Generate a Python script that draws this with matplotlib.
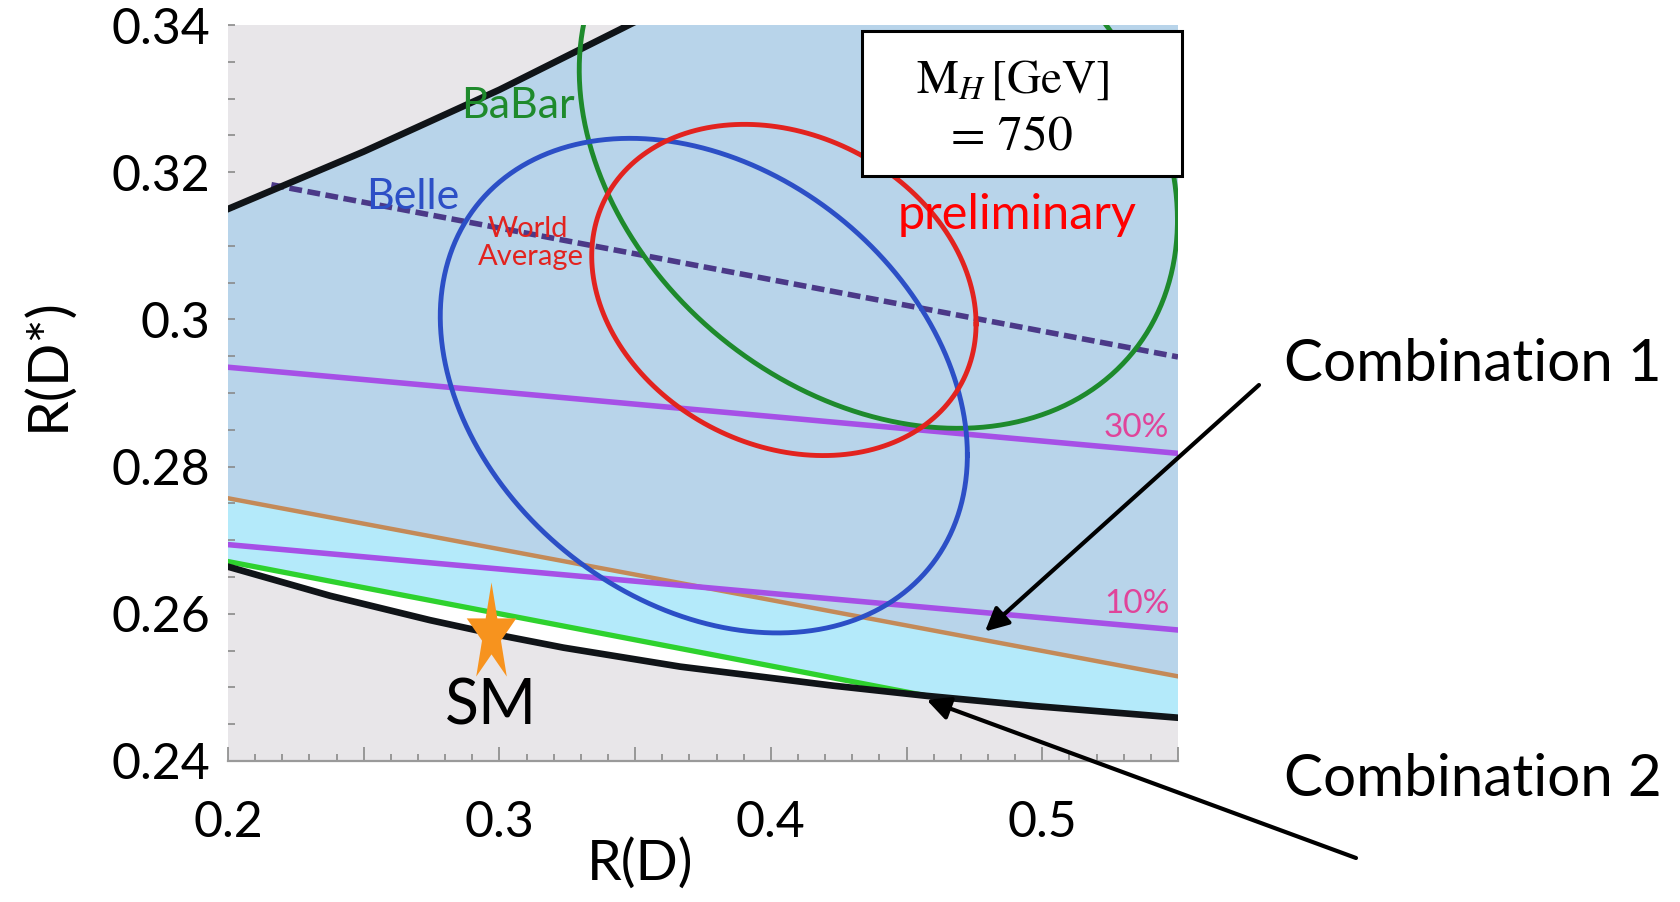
import numpy as np
import matplotlib.pyplot as plt
from matplotlib.path import Path
from matplotlib.transforms import Affine2D
from matplotlib.patches import Rectangle

plt.rcParams['font.family'] = ['Lato', 'DejaVu Sans']
plt.rcParams['mathtext.fontset'] = 'stix'

# axis ranges and ticks
x_lim = (0.2, 0.55)
y_lim = (0.24, 0.34)
x_ticks = [0.2, 0.25, 0.3, 0.35, 0.4, 0.45, 0.5, 0.55]
x_tick_labels = ['0.2', '', '0.3', '', '0.4', '', '0.5', '']
y_ticks = [0.24, 0.26, 0.28, 0.3, 0.32, 0.34]
y_tick_labels = ['0.24', '0.26', '0.28', '0.3', '0.32', '0.34']

# boundaries of the allowed region
lower_x = [0.20, 0.2376, 0.2744, 0.2990, 0.3236, 0.3666, 0.4230, 0.4574, 0.4966, 0.55]
lower_y = [0.2664, 0.26245, 0.25914, 0.25717, 0.2554, 0.25282, 0.25023, 0.24885, 0.24748, 0.24588]
upper_x = [0.20, 0.25, 0.30, 0.345, 0.36]
upper_y = [0.3150, 0.3228, 0.3312, 0.3395, 0.3423]

# combination lines
green_x = [0.20, 0.4574]
green_y = [0.2671, 0.24885]
brown_x = [0.20, 0.55]
brown_y = [0.2757, 0.2515]

# percentage contours
pct10_x = [0.20, 0.55]
pct10_y = [0.2694, 0.2578]
pct30_x = [0.20, 0.55]
pct30_y = [0.2935, 0.2818]
dash_x = [0.216, 0.55]
dash_y = [0.3183, 0.2949]

# measurement ellipses: centre, half-extent, correlation
ell_names = ['BaBar', 'Belle', 'World Average']
ell_cx = [0.4396, 0.3753, 0.4048]
ell_cy = [0.3237, 0.2910, 0.3040]
ell_sx = [0.1102, 0.0971, 0.0708]
ell_sy = [0.0385, 0.0336, 0.0225]
ell_rho = [-0.265, -0.28, -0.205]
ell_colors = ['#1e8a2c', '#2c4fc6', '#e2231f']

# SM prediction
sm_x = 0.297
sm_y = 0.2573

fig = plt.figure(figsize=(16.81, 9.02), dpi=100)
ax = fig.add_axes([228 / 1681, 1 - 761 / 902, 950 / 1681, 736 / 902])
ax.set_facecolor('#e8e6e9')

# shaded regions
ax.fill(lower_x + [x_lim[1]] + upper_x[::-1],
        lower_y + [upper_y[-1]] + upper_y[::-1], color='#b8d4ea', lw=0, zorder=1)
ax.fill(lower_x + brown_x[::-1], lower_y + brown_y[::-1], color='#b4eafa', lw=0, zorder=1.1)
lx = [x for x in lower_x if x <= green_x[-1]]
ly = lower_y[:len(lx)]
ax.fill(green_x + lx[::-1], green_y + ly[::-1], color='white', lw=0, zorder=1.2)

# lines
ax.plot(brown_x, brown_y, color='#c48a58', lw=3.2, zorder=2)
ax.plot(pct10_x, pct10_y, color='#a650e6', lw=4.0, zorder=2.1)
ax.plot(pct30_x, pct30_y, color='#a650e6', lw=4.0, zorder=2.1)
ax.plot(dash_x, dash_y, color='#4b3988', lw=4.0, dashes=(2.3, 1.0), zorder=2.1)
ax.plot(green_x, green_y, color='#2ed22e', lw=3.8, zorder=2.2)
ax.plot(lower_x, lower_y, color='#101418', lw=4.8, zorder=2.3, solid_joinstyle='round')
ax.plot(upper_x, upper_y, color='#101418', lw=4.8, zorder=2.3, solid_joinstyle='round')

t = np.linspace(0, 2 * np.pi, 400)
for cx, cy, sx, sy, r, c in zip(ell_cx, ell_cy, ell_sx, ell_sy, ell_rho, ell_colors):
    ex = cx + sx * np.cos(t)
    ey = cy + sy * (r * np.cos(t) + np.sqrt(1 - r ** 2) * np.sin(t))
    ax.plot(ex, ey, color=c, lw=3.5, zorder=3)

# stretched star for the SM point
star = Path.unit_regular_star(5, 0.381966)
star = star.transformed(Affine2D().scale(0.5, 1.0))
ax.plot([sm_x], [sm_y], marker=star, ms=75, color='#f7931e', mec='none', zorder=5)
ax.text(sm_x, 0.2449, 'SM', fontsize=45, ha='center', va='baseline', zorder=5)

# labels inside plot
ax.text(0.3069, 0.3274, 'BaBar', color=ell_colors[0], fontsize=31, ha='center', va='baseline')
ax.text(0.2682, 0.3150, 'Belle', color=ell_colors[1], fontsize=31, ha='center', va='baseline')
ax.text(0.3104, 0.3112, 'World', color=ell_colors[2], fontsize=21, ha='center', va='baseline')
ax.text(0.3117, 0.3074, 'Average', color=ell_colors[2], fontsize=21, ha='center', va='baseline')
ax.text(0.4906, 0.3123, 'preliminary', color='#ff0000', fontsize=35, ha='center', va='baseline')
ax.text(0.5467, 0.2840, '30%', color='#e0449a', fontsize=24, ha='right', va='baseline')
ax.text(0.5470, 0.2601, '10%', color='#e0449a', fontsize=24, ha='right', va='baseline')

# mass box
ax.add_patch(Rectangle((0.667, 0.795), 0.337, 0.197, transform=ax.transAxes,
                       facecolor='white', edgecolor='black', lw=2.2, zorder=6, clip_on=False))
ax.text(0.8253, 0.9076, r'M$_{H}\,$[GeV]', transform=ax.transAxes, fontsize=34,
        family='STIXGeneral', ha='center', va='baseline', zorder=7)
ax.text(0.8253, 0.8315, '= 750', transform=ax.transAxes, fontsize=36,
        family='STIXGeneral', ha='center', va='baseline', zorder=7)

# axes styling
ax.set_xlim(*x_lim)
ax.set_ylim(*y_lim)
ax.set_xticks(x_ticks, x_tick_labels)
ax.set_xticks(np.arange(0.2, 0.5501, 0.01), minor=True)
ax.set_yticks(y_ticks, y_tick_labels)
ax.set_yticks(np.arange(0.24, 0.3401, 0.005), minor=True)
ax.tick_params(axis='x', which='major', direction='in', length=10, width=1.2,
               color='#8a8a8a', pad=28, labelsize=36)
ax.tick_params(axis='x', which='minor', direction='in', length=5, width=1.2, color='#8a8a8a')
ax.tick_params(axis='y', which='both', direction='in', length=5, width=1.2,
               color='#8a8a8a', pad=13, labelsize=36)
for s in ['top', 'right', 'left']:
    ax.spines[s].set_visible(False)
ax.spines['bottom'].set_color('#9a9a9a')
ax.spines['bottom'].set_linewidth(1.6)

ax.set_xlabel('R(D)', fontsize=40)
ax.xaxis.set_label_coords(0.434, -0.105)
ax.set_ylabel('R(D*)', fontsize=41)
ax.yaxis.set_label_coords(-0.163, 0.539)

# annotations outside the plot
fig.text(1284 / 1681, 0.578, 'Combination 1', fontsize=42, ha='left', va='baseline')
fig.text(1284 / 1681, 0.117, 'Combination 2', fontsize=42, ha='left', va='baseline')
arrow = dict(arrowstyle='-|>', lw=3, color='black', mutation_scale=35, shrinkA=0, shrinkB=0)
ax.annotate('', xy=(0.4789, 0.2576), xycoords='data',
            xytext=(1259, 517), textcoords='figure pixels', arrowprops=arrow, zorder=8)
ax.annotate('', xy=(0.4574, 0.2483), xycoords='data',
            xytext=(1356, 44), textcoords='figure pixels', arrowprops=arrow, zorder=8)

fig.savefig('out.png', dpi=100)
